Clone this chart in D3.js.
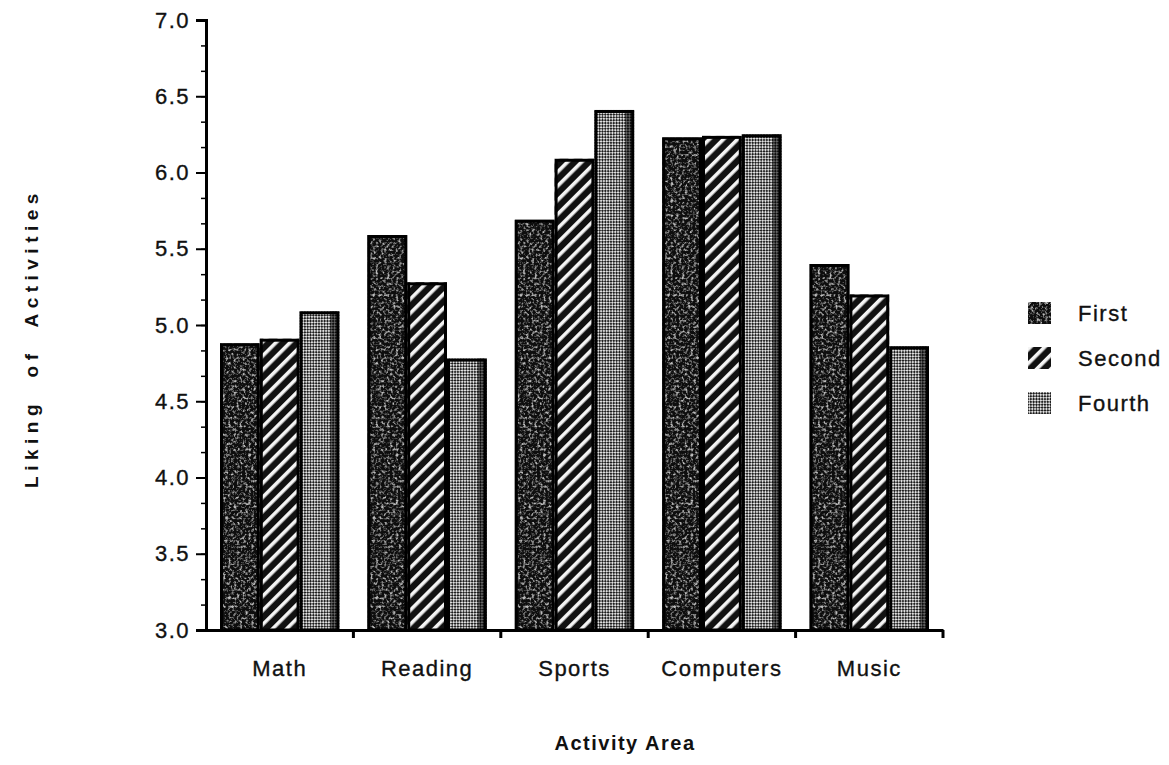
<!DOCTYPE html>
<html>
<head>
<meta charset="utf-8">
<script src="https://cdn.jsdelivr.net/npm/d3@7"></script>
<style>
  html, body { margin: 0; padding: 0; background: #fff; }
  svg { display: block; }
  text { font-family: "Liberation Sans", Arial, sans-serif; fill: #111; }
</style>
</head>
<body>
<svg id="chart" width="1169" height="765"></svg>
<script>
// ---- data ----
const categories = ["Math", "Reading", "Sports", "Computers", "Music"];
const series = ["First", "Second", "Fourth"];
const firstValues  = [4.88, 5.59, 5.69, 6.23, 5.40];
const secondValues = [4.91, 5.28, 6.09, 6.24, 5.20];
const fourthValues = [5.09, 4.78, 6.41, 6.25, 4.86];
const yTickValues = [3.0, 3.5, 4.0, 4.5, 5.0, 5.5, 6.0, 6.5, 7.0];
const xTitle = "Activity Area";
const yTitle = "Liking  of  Activities";

const valuesBySeries = { First: firstValues, Second: secondValues, Fourth: fourthValues };

const svg = d3.select("#chart");
const defs = svg.append("defs");

// mottled dark texture for "First"
const fMottle = defs.append("filter").attr("id", "mottle")
  .attr("x", 0).attr("y", 0).attr("width", 1).attr("height", 1);
fMottle.append("feTurbulence").attr("type", "fractalNoise")
  .attr("baseFrequency", 0.35).attr("numOctaves", 2).attr("seed", 4).attr("result", "noise");
fMottle.append("feColorMatrix").attr("in", "noise").attr("type", "matrix")
  .attr("values", "0 0 0 0 0.5  0 0 0 0 0.5  0 0 0 0 0.5  0 0 0 -3.4 1.75")
  .attr("result", "spots");
fMottle.append("feComposite").attr("in", "spots").attr("in2", "SourceGraphic").attr("operator", "in");

const pFirst = defs.append("pattern").attr("id", "pFirst")
  .attr("patternUnits", "userSpaceOnUse").attr("width", 4).attr("height", 4);
pFirst.append("rect").attr("width", 4).attr("height", 4).attr("fill", "#0e0e0e");
pFirst.append("rect").attr("x", 1).attr("y", 2).attr("width", 1).attr("height", 1).attr("fill", "#555");

// diagonal stripes for "Second"
const pSecond = defs.append("pattern").attr("id", "pSecond")
  .attr("patternUnits", "userSpaceOnUse").attr("width", 10).attr("height", 10)
  .attr("patternTransform", "rotate(45)");
pSecond.append("rect").attr("width", 10).attr("height", 10).attr("fill", "#111");
pSecond.append("rect").attr("x", 0).attr("y", 0).attr("width", 3.6).attr("height", 10).attr("fill", "#f4f4f4");

// fine checker for "Fourth"
const pFourth = defs.append("pattern").attr("id", "pFourth")
  .attr("patternUnits", "userSpaceOnUse").attr("width", 4).attr("height", 4)
  .attr("patternTransform", "rotate(45)");
pFourth.append("rect").attr("width", 4).attr("height", 4).attr("fill", "#e0e0e0");
pFourth.append("rect").attr("x", 0).attr("y", 0).attr("width", 2).attr("height", 2).attr("fill", "#1e1e1e");
pFourth.append("rect").attr("x", 2).attr("y", 2).attr("width", 2).attr("height", 2).attr("fill", "#1e1e1e");

const fills = { First: "url(#pFirst)", Second: "url(#pSecond)", Fourth: "url(#pFourth)" };

// ---- scales ----
const x0 = 206, x1 = 943, yTop = 20, yBottom = 630;
const x = d3.scaleBand().domain(categories).range([x0, x1])
  .paddingInner(0.19).paddingOuter(0.095);
const xs = d3.scaleBand().domain(series).range([0, x.bandwidth()]).padding(0);
const y = d3.scaleLinear().domain([3, 7]).range([yBottom, yTop]);

// ---- bars ----
const groups = svg.append("g").selectAll("g").data(categories).join("g")
  .attr("transform", d => `translate(${x(d)},0)`);

groups.selectAll("g.bar")
  .data((c, i) => series.map(s => ({ s, v: valuesBySeries[s][i] })))
  .join("g").attr("class", "bar")
  .each(function (d) {
    const g = d3.select(this);
    const bx = xs(d.s), bw = xs.bandwidth(), by = y(d.v), bh = y(3) - y(d.v);
    g.append("rect").attr("x", bx).attr("y", by).attr("width", bw).attr("height", bh)
      .attr("fill", fills[d.s]);
    if (d.s === "First") {
      g.append("rect").attr("x", bx).attr("y", by).attr("width", bw).attr("height", bh)
        .attr("fill", "#000").attr("filter", "url(#mottle)");
    }
    if (d.s === "Fourth") {
      g.append("rect").attr("x", bx + bw - 9).attr("y", by).attr("width", 7).attr("height", bh)
        .attr("fill", "#000").attr("opacity", 0.55);
    }
    g.append("rect").attr("x", bx + 1.5).attr("y", by + 1.5).attr("width", bw - 3).attr("height", bh - 1.5)
      .attr("fill", "none").attr("stroke", "#000").attr("stroke-width", 3);
  });

const fontStyle = sel => sel.style("font-size", "22px").attr("fill", "#111")
  .style("font-family", "'Liberation Sans', Arial, sans-serif")
  .attr("letter-spacing", "1.5px").attr("stroke", "#111").attr("stroke-width", 0.35);

// ---- y axis ----
const minorTicks = d3.range(0, 25).map(i => 3 + i / 6);
const yMinor = svg.append("g").attr("transform", `translate(${x0},0)`)
  .call(d3.axisLeft(y).tickValues(minorTicks).tickSize(5).tickFormat(""));
yMinor.select(".domain").remove();
yMinor.selectAll("line").attr("stroke", "#000").attr("stroke-width", 1.5);

const yAxis = svg.append("g").attr("transform", `translate(${x0},0)`)
  .call(d3.axisLeft(y).tickValues(yTickValues).tickSize(10).tickPadding(6)
    .tickFormat(d3.format(".1f")));
yAxis.select(".domain").attr("stroke", "#000").attr("stroke-width", 3);
yAxis.selectAll("line").attr("stroke", "#000").attr("stroke-width", 2);
yAxis.selectAll("text").call(fontStyle);

// ---- x axis ----
const boundaries = d3.range(1, categories.length + 1).map(i => x0 + x.step() * i);
const xAxis = svg.append("g").attr("transform", `translate(0,${yBottom})`)
  .call(d3.axisBottom(x).tickSize(0).tickPadding(30));
xAxis.select(".domain").attr("stroke", "#000").attr("stroke-width", 3);
xAxis.selectAll("text").call(fontStyle);
xAxis.selectAll(".bnd").data(boundaries).join("line").attr("class", "bnd")
  .attr("x1", d => d).attr("x2", d => d).attr("y1", 0).attr("y2", 8)
  .attr("stroke", "#000").attr("stroke-width", 3);

// ---- titles ----
svg.append("text").attr("x", 625).attr("y", 750).attr("text-anchor", "middle")
  .style("font-size", "20px").style("font-weight", "bold")
  .attr("letter-spacing", "1.5px").text(xTitle);

svg.append("text")
  .attr("transform", `translate(38,${338}) rotate(-90)`)
  .attr("text-anchor", "middle")
  .style("font-size", "19px").style("font-weight", "bold")
  .attr("letter-spacing", "5.5px").style("white-space", "pre")
  .attr("xml:space", "preserve")
  .text(yTitle);

// ---- legend ----
const legend = svg.append("g").attr("transform", "translate(1028,302)");
const li = legend.selectAll("g").data(series).join("g")
  .attr("transform", (d, i) => `translate(0,${i * 45})`);
li.append("rect").attr("width", 23).attr("height", 22).attr("fill", d => fills[d]);
li.filter(d => d === "First").append("rect").attr("width", 23).attr("height", 22)
  .attr("fill", "#000").attr("filter", "url(#mottle)");
li.append("text").attr("x", 50).attr("y", 19).call(fontStyle).text(d => d);
</script>
</body>
</html>
